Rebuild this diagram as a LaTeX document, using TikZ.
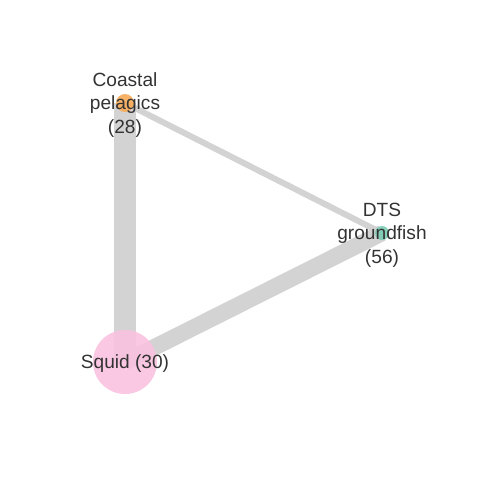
\documentclass[tikz,border=0pt]{standalone}
\usepackage{fontspec}
\setmainfont{Liberation Sans}
\usetikzlibrary{positioning}
\definecolor{linkgray}{RGB}{211,211,211}
\definecolor{cporange}{RGB}{247,170,88}
\definecolor{dtsteal}{RGB}{122,204,178}
\definecolor{squidpink}{RGB}{249,194,224}
\definecolor{labelgray}{RGB}{51,51,51}
\tikzset{fish/.style={circle,inner sep=0pt,fill opacity=0.9,draw=none}}
\tikzset{fishlabel/.style={align=center,text=labelgray,yshift=-2*0.7113pt,font=\fontsize{13.6}{16.8}\selectfont}}
\begin{document}
\begin{tikzpicture}[x=0.025cm,y=-0.025cm]
        \useasboundingbox (0,0) rectangle (480,480);
        \coordinate (Cp) at (125,103);
        \coordinate (Dts) at (382,233);
        \coordinate (Sq) at (125,362);
        \draw[linkgray]
        (Cp) edge[line width=21*0.7113pt] (Sq)
        (Cp) edge[line width=6*0.7113pt] (Dts)
        (Dts) edge[line width=16.5*0.7113pt] (Sq);
        \node(cp)[fish,fill=cporange,minimum size=18*0.7113pt] at (Cp){};
        \node(dts)[fish,fill=dtsteal,minimum size=14*0.7113pt] at (Dts){};
        \node(sq)[fish,fill=squidpink,minimum size=64*0.7113pt] at (Sq){};
        \node(cpl)[fishlabel] at (cp){Coastal\\pelagics\\(28)};
        \node(dtsl)[fishlabel] at (dts){DTS\\groundfish\\(56)};
        \node(sql)[fishlabel] at (sq){Squid (30)};
      \end{tikzpicture}
\end{document}
